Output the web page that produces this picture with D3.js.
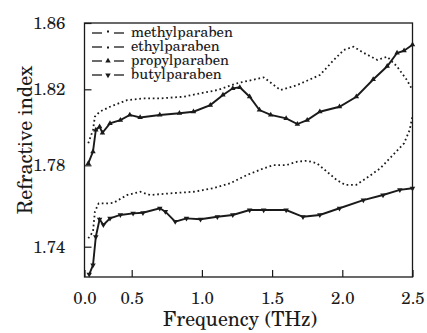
<!DOCTYPE html>
<html>
<head>
<meta charset="utf-8">
<script src="https://cdn.jsdelivr.net/npm/d3@7"></script>
<style>
  body { margin: 0; background: #fff; }
  svg { display: block; }
</style>
</head>
<body>
<svg id="chart" width="427" height="333"></svg>
<script>
// values
const methylFreq = [0.04, 0.09, 0.11, 0.16, 0.27, 0.45, 0.58, 0.70, 0.87, 0.99, 1.11, 1.25, 1.44, 1.56, 1.68, 1.84, 1.94, 2.01, 2.08, 2.15, 2.25, 2.32, 2.39, 2.46, 2.50];
const methylIndex = [1.7916, 1.7986, 1.8056, 1.8082, 1.8108, 1.8143, 1.8152, 1.8152, 1.8161, 1.8179, 1.8196, 1.8236, 1.8272, 1.8196, 1.8226, 1.8286, 1.8377, 1.8437, 1.8457, 1.8421, 1.8377, 1.8397, 1.8337, 1.8256, 1.8196];

const ethylFreq = [0.04, 0.09, 0.11, 0.15, 0.24, 0.31, 0.45, 0.56, 0.63, 0.77, 0.94, 1.08, 1.20, 1.32, 1.44, 1.51, 1.60, 1.68, 1.75, 1.82, 1.89, 1.96, 2.02, 2.10, 2.17, 2.27, 2.36, 2.44, 2.48, 2.50];
const ethylIndex = [1.7441, 1.7474, 1.7572, 1.7613, 1.7613, 1.7616, 1.7654, 1.7670, 1.7654, 1.7662, 1.7670, 1.7687, 1.7711, 1.7752, 1.7785, 1.7801, 1.7801, 1.7819, 1.7824, 1.7810, 1.7769, 1.7728, 1.7704, 1.7704, 1.7736, 1.7785, 1.7854, 1.7916, 1.7986, 1.8060];

const propylFreq = [0.04, 0.09, 0.12, 0.16, 0.19, 0.27, 0.38, 0.48, 0.56, 0.70, 0.84, 0.94, 1.06, 1.15, 1.22, 1.27, 1.34, 1.41, 1.49, 1.60, 1.68, 1.75, 1.84, 1.98, 2.10, 2.22, 2.32, 2.39, 2.44, 2.50];
const propylIndex = [1.7810, 1.7872, 1.7986, 1.8003, 1.7971, 1.8021, 1.8038, 1.8065, 1.8052, 1.8065, 1.8074, 1.8082, 1.8117, 1.8170, 1.8206, 1.8212, 1.8161, 1.8091, 1.8065, 1.8047, 1.8017, 1.8038, 1.8082, 1.8108, 1.8161, 1.8259, 1.8339, 1.8419, 1.8433, 1.8469];

const butylFreq = [0.05, 0.09, 0.12, 0.16, 0.20, 0.27, 0.38, 0.51, 0.58, 0.70, 0.74, 0.81, 0.89, 0.99, 1.11, 1.22, 1.34, 1.44, 1.60, 1.72, 1.84, 1.98, 2.15, 2.29, 2.41, 2.50];
const butylIndex = [1.7264, 1.7310, 1.7449, 1.7535, 1.7507, 1.7539, 1.7556, 1.7564, 1.7567, 1.7589, 1.7572, 1.7523, 1.7539, 1.7535, 1.7547, 1.7556, 1.7580, 1.7580, 1.7580, 1.7547, 1.7556, 1.7589, 1.7629, 1.7654, 1.7679, 1.7687];

const seriesNames = ['methylparaben', 'ethylparaben', 'propylparaben', 'butylparaben'];
const xTicks = [0, 0.5, 1.0, 1.5, 2.0, 2.5];
const yTicks = [1.74, 1.78, 1.82, 1.86];

const svg = d3.select('#chart');
const ink = '#1a1a1a';
const serif = '"TeX Gyre Schola", "Century Schoolbook", "DejaVu Serif", serif';
const frame = { left: 84.5, right: 412.5, top: 23, bottom: 277 };

// the printed figure's axes are not quite evenly spaced, so use piecewise scales
const x = d3.scaleLinear()
  .domain([0, 0.5, 2.5])
  .range([frame.left, 131.7, frame.right]);

const y = d3.scaleLinear()
  .domain([1.74, 1.78, 1.82, 1.86])
  .range([246.7, 165.3, 89.3, frame.top]);

const series = [
  { name: seriesNames[0], f: methylFreq, v: methylIndex, style: 'dot' },
  { name: seriesNames[1], f: ethylFreq, v: ethylIndex, style: 'dot' },
  { name: seriesNames[2], f: propylFreq, v: propylIndex, style: 'up' },
  { name: seriesNames[3], f: butylFreq, v: butylIndex, style: 'down' }
];

// size a text so its width matches the one measured on the reference
function fitWidth(sel, target) {
  const w = sel.node().getComputedTextLength();
  const fs = parseFloat(sel.attr('font-size'));
  return fs * target / w;
}

const line = d3.line()
  .x(d => x(d[0]))
  .y(d => y(d[1]));

const plot = svg.append('g');

series.forEach(s => {
  const pts = s.f.map((f, i) => [f, s.v[i]]);
  if (s.style === 'dot') {
    plot.append('path')
      .attr('d', line(pts))
      .attr('fill', 'none')
      .attr('stroke', ink)
      .attr('stroke-width', 1.8)
      .attr('stroke-dasharray', '1.7 2.8');
  } else {
    plot.append('path')
      .attr('d', line(pts))
      .attr('fill', 'none')
      .attr('stroke', ink)
      .attr('stroke-width', 1.9);
    const sym = d3.symbol().type(d3.symbolTriangle).size(13);
    plot.selectAll(null)
      .data(pts)
      .enter().append('path')
      .attr('d', sym)
      .attr('fill', ink)
      .attr('transform', d => `translate(${x(d[0])},${y(d[1])})${s.style === 'down' ? ' rotate(180)' : ''}`);
  }
});

// frame
svg.append('rect')
  .attr('x', frame.left)
  .attr('y', frame.top)
  .attr('width', frame.right - frame.left)
  .attr('height', frame.bottom - frame.top)
  .attr('fill', 'none')
  .attr('stroke', ink)
  .attr('stroke-width', 1.3);

// pick font sizes from widths seen in the reference
const probe = svg.append('text').attr('font-family', serif).attr('font-size', 20).text('1.82');
const tickSize = fitWidth(probe, 32.5);
probe.text('Frequency (THz)');
const titleSize = fitWidth(probe, 154);
probe.text('methylparaben');
const legendSize = fitWidth(probe, 102);
probe.remove();

// axes with inward ticks (d3.axis sets its own font, so override after the call)
const xAxis = svg.append('g')
  .attr('transform', `translate(0,${frame.bottom})`)
  .call(d3.axisBottom(x).tickValues(xTicks).tickFormat(d3.format('.1f')).tickSizeInner(-7).tickSizeOuter(0).tickPadding(15))
  .attr('font-family', serif)
  .attr('font-size', tickSize);
xAxis.select('.domain').remove();
xAxis.selectAll('line').attr('stroke', ink).attr('stroke-width', 1.2);
xAxis.selectAll('text').attr('fill', ink);

const yAxis = svg.append('g')
  .attr('transform', `translate(${frame.left},0)`)
  .call(d3.axisLeft(y).tickValues(yTicks).tickFormat(d3.format('.2f')).tickSizeInner(-7).tickSizeOuter(0).tickPadding(19))
  .attr('font-family', serif)
  .attr('font-size', tickSize);
yAxis.select('.domain').remove();
yAxis.selectAll('line').attr('stroke', ink).attr('stroke-width', 1.2);
yAxis.selectAll('text').attr('fill', ink);

// axis titles
svg.append('text')
  .attr('x', 240)
  .attr('y', 326)
  .attr('text-anchor', 'middle')
  .attr('fill', ink)
  .attr('font-family', serif)
  .attr('font-size', titleSize)
  .text('Frequency (THz)');

svg.append('text')
  .attr('transform', 'translate(32,140) rotate(-90)')
  .attr('text-anchor', 'middle')
  .attr('fill', ink)
  .attr('font-family', serif)
  .attr('font-size', titleSize)
  .text('Refractive index');

// legend
const legend = svg.append('g');
series.forEach((s, i) => {
  const cy = 33 + i * 14;
  const g = legend.append('g').attr('transform', `translate(0,${cy})`);
  g.append('line').attr('x1', 92).attr('x2', 102).attr('y1', 0).attr('y2', 0)
    .attr('stroke', ink).attr('stroke-width', 1.3);
  g.append('line').attr('x1', 114).attr('x2', 124).attr('y1', 0).attr('y2', 0)
    .attr('stroke', ink).attr('stroke-width', 1.3);
  if (s.style === 'dot') {
    g.append('rect').attr('x', 107).attr('y', i === 0 ? -2.5 : -0.5).attr('width', 2).attr('height', 2).attr('fill', ink);
  } else {
    g.append('path')
      .attr('d', d3.symbol().type(d3.symbolTriangle).size(13))
      .attr('fill', ink)
      .attr('transform', `translate(108,0)${s.style === 'down' ? ' rotate(180)' : ''}`);
  }
  g.append('text')
    .attr('x', 131)
    .attr('y', 4)
    .attr('fill', ink)
    .attr('font-family', serif)
    .attr('font-size', legendSize)
    .text(s.name);
});
</script>
</body>
</html>
